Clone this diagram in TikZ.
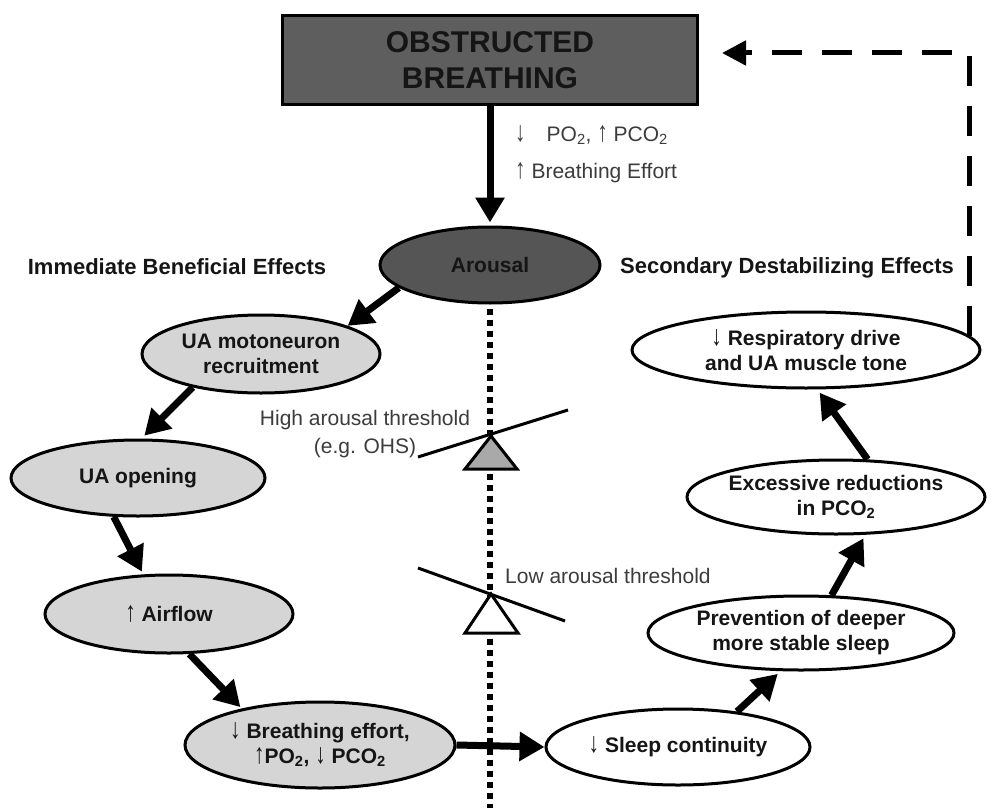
\documentclass[tikz,border=0pt]{standalone}
\usepackage{graphicx}
\usepackage{fontspec}
\setmainfont{Liberation Sans}
\usetikzlibrary{shapes.geometric,arrows.meta}
\definecolor{boxfill}{HTML}{5E5E5E}
\definecolor{arousalfill}{HTML}{555555}
\definecolor{lightfill}{HTML}{D5D5D5}
\definecolor{trifill}{HTML}{A9A9A9}
\definecolor{labelgray}{HTML}{3C3C3C}
\definecolor{ink}{HTML}{151515}
\newcommand{\myup}{\scalebox{1}[1.35]{↑}}
\newcommand{\mydown}{\scalebox{1}[1.35]{↓}}
\begin{document}
\begin{tikzpicture}[x=1pt,y=-1pt,
  oval/.style={ellipse, draw=black, line width=3pt, inner sep=-12pt, align=center, text=ink,
    font=\bfseries\fontsize{21}{25}\selectfont},
  lightoval/.style={oval, fill=lightfill},
  whiteoval/.style={oval, fill=white},
  titlebox/.style={rectangle, draw=black, line width=3pt, fill=boxfill, inner sep=0pt, align=center,
    text=ink, font=\bfseries\fontsize{30}{36}\selectfont},
  arr/.style={line width=7pt, -{Triangle[length=25pt,width=28pt]}},
  fb/.style={line width=5pt, dash pattern=on 30pt off 20pt, -{Triangle[length=24pt,width=24pt]}},
  dotline/.style={line width=6pt, dash pattern=on 6pt off 5pt},
  lbl/.style={text=labelgray, font=\fontsize{21}{28}\selectfont, inner sep=0pt},
  hdr/.style={text=ink, font=\bfseries\fontsize{22}{26}\selectfont, inner sep=0pt},
  tri/.style={draw=black, line width=3pt, line join=miter},
  beam/.style={line width=3pt}]
\useasboundingbox[fill=white] (0,0) rectangle (993,808);

% nodes
\node[titlebox, minimum width=415pt, minimum height=88pt] (box) at (490,60) {OBSTRUCTED\\BREATHING};
\node[oval, fill=arousalfill, minimum width=220pt, minimum height=76pt] (arousal) at (490,265) {Arousal};
\node[lightoval, minimum width=238pt, minimum height=78pt] (moto) at (261,354) {UA motoneuron\\recruitment};
\node[lightoval, minimum width=254pt, minimum height=76pt] (opening) at (138,478) {UA opening};
\node[lightoval, minimum width=248pt, minimum height=78pt] (airflow) at (169,614) {\myup{} Airflow};
\node[lightoval, minimum width=270pt, minimum height=86pt] (breathing) at (320,745) {\mydown{} Breathing effort,\\\myup{}PO\textsubscript{2}, \mydown{} PCO\textsubscript{2}};
\node[whiteoval, minimum width=264pt, minimum height=76pt] (sleep) at (678,747) {\mydown{} Sleep continuity};
\node[whiteoval, minimum width=306pt, minimum height=74pt] (prevention) at (801,633) {Prevention of deeper\\more stable sleep};
\node[whiteoval, minimum width=298pt, minimum height=74pt] (excessive) at (836,497) {Excessive reductions\\in PCO\textsubscript{2}};
\node[whiteoval, minimum width=348pt, minimum height=76pt] (resp) at (806,350) {\mydown{} Respiratory drive\\and UA muscle tone};

% labels
\node[lbl, anchor=west] (gases) at (515,135) {\mydown\quad PO\textsubscript{2}, \myup{} PCO\textsubscript{2}};
\node[lbl, anchor=west] (effort) at (515,173) {\myup{} Breathing Effort};
\node[hdr] (immediate) at (177,267) {Immediate Beneficial Effects};
\node[hdr] (secondary) at (787,268) {Secondary Destabilizing Effects};
\node[lbl, align=center] (high) at (365,434) {High arousal threshold\\(e.g. OHS)};
\node[lbl, anchor=west] (low) at (505,576) {Low arousal threshold};

% dotted divider
\coordinate (dotend) at (490,808);
\draw[dotline] ([yshift=-4pt]arousal.south) -- (dotend);

% seesaws
\draw[tri, fill=trifill] (491,436) -- (517,469) -- (465,469) -- cycle;
\draw[beam] (418,457) -- (568,410);
\draw[tri, fill=white] (491,594) -- (518,633) -- (465,633) -- cycle;
\draw[beam] (418,568) -- (565,621);

% connectors
\draw[arr, shorten >=3pt] (box.south) -- (arousal.north);
\draw[arr] (arousal.194) -- (moto.18);
\draw[arr, shorten >=4pt] (moto.206) -- (opening.85);
\draw[arr, shorten >=3pt] (opening.238) -- (airflow.123);
\draw[arr, shorten >=2pt] (airflow.297) -- (breathing.155);
\draw[arr] (breathing.east) -- (sleep.west);
\draw[arr, shorten >=4pt] (sleep.31) -- (prevention.242);
\draw[arr, shorten >=4pt] (prevention.51) -- (excessive.308);
\draw[arr, shorten >=4pt] (excessive.50) -- (resp.286);

% feedback
\draw[fb] (resp.5) |- ([xshift=23pt,yshift=7pt]box.east);
\end{tikzpicture}
\end{document}
